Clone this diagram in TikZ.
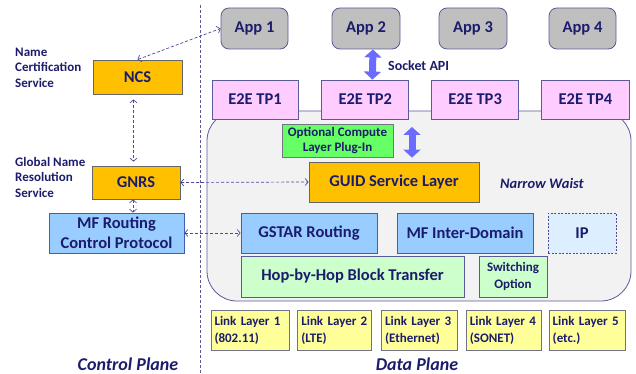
\documentclass[tikz,border=0pt]{standalone}
\usepackage{fontspec}
\setmainfont{Carlito}
\usepackage{tikz}
\usetikzlibrary{arrows.meta, positioning, calc}
\definecolor{ink}{HTML}{1C1C6C}
\definecolor{frame}{HTML}{5A5A9A}
\definecolor{appgray}{HTML}{BFBFBF}
\definecolor{gold}{HTML}{FFC000}
\definecolor{pinkbox}{HTML}{FFCCFF}
\definecolor{limebox}{HTML}{66FF66}
\definecolor{skybox}{HTML}{99CCFF}
\definecolor{skyline}{HTML}{3F5FAF}
\definecolor{ipbox}{HTML}{DDEEFF}
\definecolor{mintbox}{HTML}{CCFFCC}
\definecolor{linkbox}{HTML}{FFFF99}
\definecolor{waistbg}{HTML}{F2F2F2}
\definecolor{fatblue}{HTML}{6B6BFF}
\definecolor{dashblue}{HTML}{4A4A9A}

\begin{document}
\begin{tikzpicture}[x=1pt, y=-1pt,
    box/.style={draw=frame, rectangle, inner sep=0pt, line width=0.8pt, text=ink, align=center,
        font=\bfseries\fontsize{16.5}{20}\selectfont},
    app/.style={box, fill=appgray, rounded corners=8pt, minimum width=67, minimum height=41},
    svc/.style={box, fill=gold, draw=gray!80!black},
    tp/.style={box, fill=pinkbox, minimum width=87, minimum height=39},
    route/.style={box, fill=skybox, draw=skyline, minimum width=136, minimum height=40},
    hop/.style={box, fill=mintbox, minimum height=41},
    link/.style={box, fill=linkbox, draw=gray!60!frame, minimum height=40, align=left,
        font=\bfseries\fontsize{13}{17}\selectfont},
    note/.style={inner sep=0pt, text=ink, align=left, font=\bfseries\fontsize{13}{15.5}\selectfont},
    plane/.style={inner sep=0pt, text=ink, anchor=base, font=\bfseries\itshape\fontsize{18}{20}\selectfont},
    dashlink/.style={draw=dashblue, line width=0.7pt, dash pattern=on 3pt off 2pt,
        {Straight Barb[length=3pt,width=7pt]}-{Straight Barb[length=3pt,width=7pt]}},
    fatarrow/.style={draw=fatblue, line width=7pt,
        {Triangle[length=8pt,width=17pt]}-{Triangle[length=8pt,width=17pt]}}]

    \useasboundingbox (0,0) rectangle (636,374);

    % data plane background
    \node (waist) [draw=frame, fill=waistbg, line width=0.8pt, rounded corners=30pt,
        minimum width=424, minimum height=190, inner sep=0pt] at (419,206) {};

    % divider
    \coordinate (divtop) at (200,5);
    \coordinate (divbot) at (200,374);
    \draw[draw=frame, line width=0.7pt, dash pattern=on 3pt off 2pt] (divtop) -- (divbot);

    % applications
    \node (app1) [app] at (254.5,28.5) {App 1};
    \node (app2) [app, minimum width=68] at (366,28.5) {App 2};
    \node (app3) [app, minimum width=68] at (473,28.5) {App 3};
    \node (app4) [app] at (582.5,28.5) {App 4};

    % transport protocols
    \node (tp1) [tp, minimum width=86] at (255,99.5) {E2E TP1};
    \node (tp2) [tp, right=23pt of tp1] {E2E TP2};
    \node (tp3) [tp, right=22pt of tp2] {E2E TP3};
    \node (tp4) [tp, minimum width=88, right=22pt of tp3] {E2E TP4};

    \draw[fatarrow] ([xshift=7pt]app2.south) -- ([xshift=7pt]tp2.north);
    \node (socket) [note, anchor=west, font=\bfseries\fontsize{14}{16}\selectfont] at (388,66) {Socket API};

    % control plane
    \node (ncs) [svc, minimum width=89, minimum height=34] at (137.5,77) {NCS};
    \node (gnrs) [svc, minimum width=88, minimum height=33] at (136,182.5) {GNRS};
    \node (mfrc) [route, minimum width=135] at (116.5,233) {MF Routing\\Control Protocol};
    \node (ncslabel) [note, anchor=west] at (15,67.5) {Name\\Certification\\Service};
    \node (gnrslabel) [note, anchor=west] at (15,177) {Global Name\\Resolution\\Service};

    % narrow waist
    \node (plugin) [box, fill=limebox, draw=gray!70!frame, minimum width=111, minimum height=33,
        font=\bfseries\fontsize{13}{15.5}\selectfont] at (337.5,140.5) {Optional Compute\\Layer Plug-In};
    \node (guid) [svc, minimum width=170, minimum height=40] at (394,182) {GUID Service Layer};
    \node (narrow) [note, anchor=west, font=\bfseries\itshape\fontsize{14.5}{16}\selectfont] at (500,183) {Narrow Waist};
    \coordinate (plugarrow) at (412,127);
    \draw[fatarrow, shorten >=4pt] (plugarrow) -- (plugarrow |- guid.north);

    \node (gstar) [route] at (309,233) {GSTAR Routing};
    \node (inter) [route] at (465,233) {MF Inter-Domain};
    \node (ip) [box, fill=ipbox, draw=dashblue, dash pattern=on 2pt off 1.5pt,
        minimum width=68, minimum height=40] at (582,233) {IP};
    \node (hop) [hop, minimum width=223] at (352.5,276.5) {Hop-by-Hop Block Transfer};
    \node (switch) [hop, minimum width=68, font=\bfseries\fontsize{13}{16.5}\selectfont]
        at (513,276.5) {Switching\\Option};

    % link layers
    \node (link1) [link, minimum width=78, text width=71] at (250,330) {Link Layer 1\\(802.11)};
    \node (link2) [link, minimum width=74, text width=67, right=8pt of link1] {Link Layer 2\\(LTE)};
    \node (link3) [link, minimum width=76, text width=69, right=9pt of link2] {Link Layer 3\\(Ethernet)};
    \node (link4) [link, minimum width=75, text width=68, right=8pt of link3] {Link Layer 4\\(SONET)};
    \node (link5) [link, minimum width=76, text width=69, right=7pt of link4] {Link Layer 5\\(etc.)};

    % dashed control links
    \draw[dashlink] (ncs.north) -- (app1.west);
    \draw[dashlink, shorten <=5pt, shorten >=4pt] ([xshift=-4pt]ncs.south) -- ([xshift=-4pt]ncs.south |- gnrs.north);
    \draw[dashlink] (gnrs.east) -- (guid.west);
    \draw[dashlink] ([xshift=-3pt]gnrs.south) -- ([xshift=-3pt]gnrs.south |- mfrc.north);
    \draw[dashlink] (mfrc.east) -- (gstar.west);

    \node (control) [plane] at (128,370) {Control Plane};
    \node (data) [plane] at (417,370) {Data Plane};
\end{tikzpicture}
\end{document}
